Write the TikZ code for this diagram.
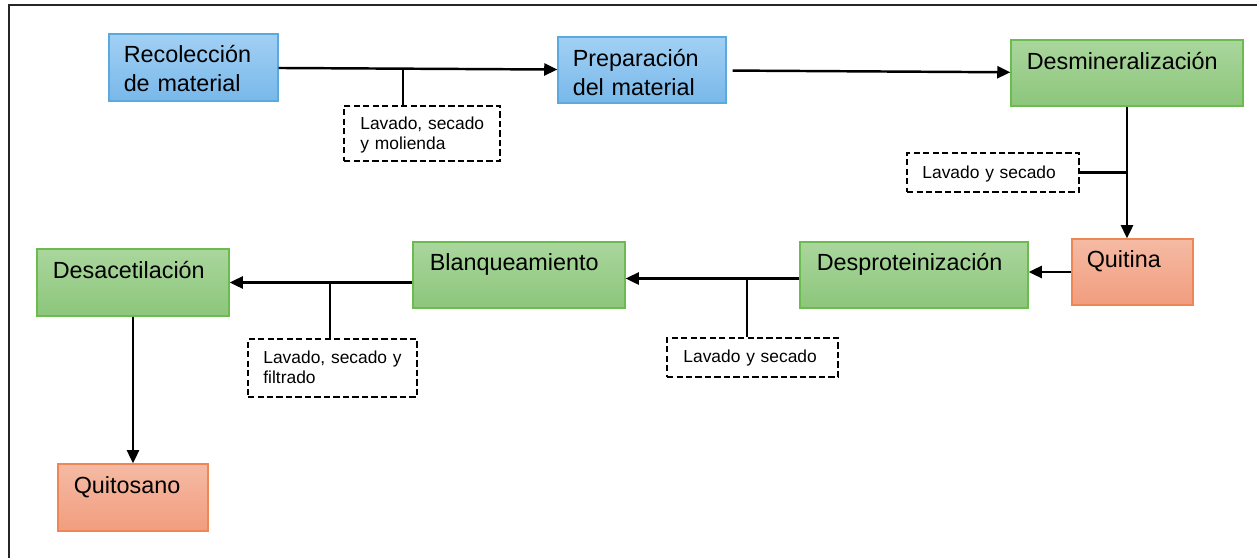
\documentclass[tikz,border=0pt]{standalone}
\usepackage{fontspec}
\setmainfont{Liberation Sans}
\usepackage{tikz}
\usetikzlibrary{arrows.meta,calc}
\definecolor{azultop}{HTML}{A2D0F4}
\definecolor{azulbot}{HTML}{78B8EA}
\definecolor{azulbor}{HTML}{5AAAE0}
\definecolor{verdetop}{HTML}{AAD69D}
\definecolor{verdebot}{HTML}{8CC67B}
\definecolor{verdebor}{HTML}{6CBB4E}
\definecolor{salmontop}{HTML}{F5BAA4}
\definecolor{salmonbot}{HTML}{F29D7E}
\definecolor{salmonbor}{HTML}{EE8753}

\begin{document}
\begin{tikzpicture}[x=0.02cm, y=-0.02cm,
    caja/.style={draw, line width=0.7pt, inner sep=0pt},
    azul/.style={caja, draw=azulbor, top color=azultop, bottom color=azulbot},
    verde/.style={caja, draw=verdebor, top color=verdetop, bottom color=verdebot},
    salmon/.style={caja, draw=salmonbor, top color=salmontop, bottom color=salmonbot},
    nota/.style={draw, line width=1.1pt, dash pattern=on 3.6pt off 1.8pt, inner sep=0pt},
    txt/.style={anchor=base west, inner sep=0pt, text width=5cm, align=left,
        font=\fontsize{13.3}{16.4}\selectfont},
    txtnota/.style={anchor=base west, inner sep=0pt, text width=4cm, align=left,
        font=\fontsize{9.9}{11.4}\selectfont},
    flecha/.style={line width=1.4pt, -{Triangle[length=7.5pt,width=6.8pt]}},
    rama/.style={line width=1.4pt}]
    \useasboundingbox (0,0) rectangle (1257,558);
    % marco
    \draw[line width=1.4pt, black!85] (1257,5) -- (9,5) -- (9,558);
    % fila de arriba
    \node[azul, minimum width=3.38cm, minimum height=1.34cm] (reco) at (193.5,67.5) {};
    \node[txt] (recot) at ([shift={(15,29)}]reco.north west) {Recolección\\de material};
    \node[azul, minimum width=3.36cm, minimum height=1.32cm] (prep) at (642,70) {};
    \node[txt] (prept) at ([shift={(15,30)}]prep.north west) {Preparación\\del material};
    \node[verde, minimum width=4.64cm, minimum height=1.32cm] (desmin) at (1127,73) {};
    \node[txt] (desmint) at ([shift={(16,30)}]desmin.north west) {Desmineralización};
    % fila del medio
    \node[salmon, minimum width=2.42cm, minimum height=1.32cm] (quitina) at (1132.5,272) {};
    \node[txt] (quitinat) at ([shift={(15,29)}]quitina.north west) {Quitina};
    \node[verde, minimum width=4.56cm, minimum height=1.32cm] (desprot) at (914,275) {};
    \node[txt] (desprott) at ([shift={(17,29)}]desprot.north west) {Desproteinización};
    \node[verde, minimum width=4.24cm, minimum height=1.32cm] (blanq) at (519,275) {};
    \node[txt] (blanqt) at ([shift={(17,29)}]blanq.north west) {Blanqueamiento};
    \node[verde, minimum width=3.84cm, minimum height=1.34cm] (desac) at (133,282.5) {};
    \node[txt] (desact) at ([shift={(16,30)}]desac.north west) {Desacetilación};
    \node[salmon, minimum width=3.0cm, minimum height=1.34cm] (quitosano) at (133,497.5) {};
    \node[txt] (quitosanot) at ([shift={(16,30)}]quitosano.north west) {Quitosano};
    % notas punteadas
    \node[nota, minimum width=3.12cm, minimum height=1.1cm] (lav1) at (422,133.5) {};
    \node[txtnota] (lav1t) at ([shift={(17,24)}]lav1.north west) {Lavado, secado\\y molienda};
    \node[nota, minimum width=3.44cm, minimum height=0.78cm] (lav2) at (993,172.5) {};
    \node[txtnota] (lav2t) at ([shift={(16,26)}]lav2.north west) {Lavado y secado};
    \node[nota, minimum width=3.42cm, minimum height=0.78cm] (lav3) at (752.5,357.5) {};
    \node[txtnota] (lav3t) at ([shift={(17,25)}]lav3.north west) {Lavado y secado};
    \node[nota, minimum width=3.38cm, minimum height=1.16cm] (lav4) at (332.5,368) {};
    \node[txtnota] (lav4t) at ([shift={(16,25)}]lav4.north west) {Lavado, secado y\\filtrado};
    % conectores
    \draw[flecha] (reco) -- (prep);
    \coordinate (j1) at ($(reco.east)!0.446!(prep.west)$);
    \draw[rama] (j1) -- (j1 |- lav1.north);
    \draw[flecha, shorten <=3.4pt] (prep) -- (desmin);
    \draw[flecha] (desmin.south) -- (desmin.south |- quitina.north);
    \draw[rama] (lav2.east) -- (lav2.east -| desmin.south);
    \draw[flecha] (quitina.west) -- (desprot.east |- quitina.west);
    \draw[flecha] ([yshift=-2pt]desprot.west) -- ([yshift=-2pt]blanq.east);
    \coordinate (j2) at (747,279);
    \draw[rama] (j2) -- (j2 |- lav3.north);
    \draw[flecha] (blanq.west |- desac.east) -- (desac.east);
    \coordinate (j3) at (330,282);
    \draw[rama] (j3) -- (j3 |- lav4.north);
    \draw[flecha] (desac) -- (quitosano);
\end{tikzpicture}
\end{document}
